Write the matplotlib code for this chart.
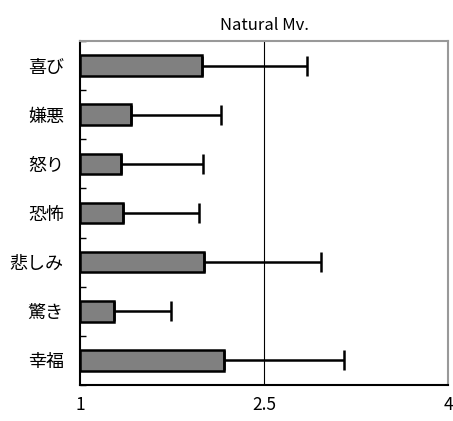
import matplotlib
matplotlib.use("Agg")
import matplotlib.pyplot as plt
import numpy as np

plt.rcParams['font.family'] = ['Noto Sans CJK JP', 'DejaVu Sans']

categories = ["喜び", "嫌悪", "怒り", "恐怖", "悲しみ", "驚き", "幸福"]
means = [1.99, 1.41, 1.33, 1.35, 2.01, 1.27, 2.17]
errors = [0.86, 0.74, 0.67, 0.62, 0.95, 0.47, 0.985]
xticks = [1, 2.5, 4]
xticklabels = ["1", "2.5", "4"]
title = "Natural Mv."

fig = plt.figure(figsize=(4.53, 4.21), dpi=100)
ax = fig.add_axes([0.1777, 0.0855, 0.8113, 0.8171])

n = len(categories)
y = np.arange(n)[::-1]
base = 1.0
widths = [m - base for m in means]
ax.barh(y, widths, left=base, height=0.42, color="#808080",
        edgecolor="black", linewidth=1.8, zorder=3)
ax.errorbar(means, y, xerr=[np.zeros(n), errors], fmt="none", ecolor="black",
            elinewidth=1.8, capsize=7, capthick=1.8, zorder=4)
ax.axvline(2.5, color="black", linewidth=0.8, zorder=2)

ax.set_xlim(1, 4)
ax.set_ylim(-0.5, n - 0.5)
ax.set_xticks(xticks)
ax.set_xticklabels(xticklabels, fontsize=12.5)
ax.tick_params(axis="x", length=0, pad=8)
ax.set_yticks(y)
ax.set_yticklabels(categories, fontsize=13)
ax.tick_params(axis="y", length=0, pad=12)
ax.set_yticks(np.arange(n + 1) - 0.5, minor=True)
ax.tick_params(axis="y", which="minor", direction="in", length=4, width=1, color="black")

for s in ["left", "bottom"]:
    ax.spines[s].set_color("black")
    ax.spines[s].set_linewidth(1.5)
for s in ["top", "right"]:
    ax.spines[s].set_color("#999999")
    ax.spines[s].set_linewidth(1.5)

ax.set_title(title, fontsize=12, pad=8)

fig.savefig("out.png", dpi=100)
